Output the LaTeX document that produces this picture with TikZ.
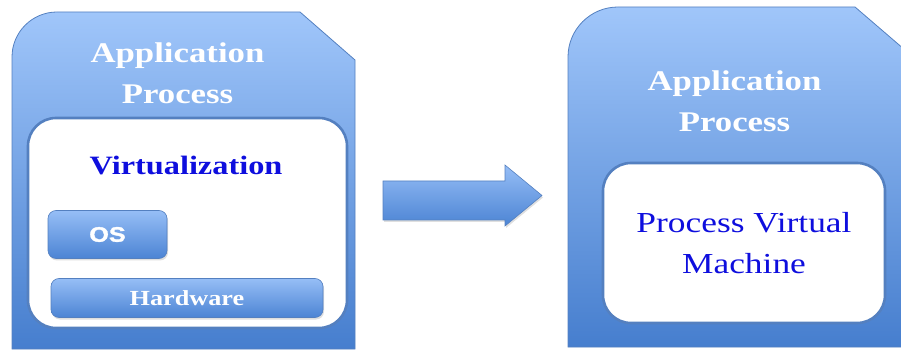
\documentclass[tikz,border=0pt]{standalone}
\usepackage{fontspec}
\setmainfont[FakeStretch=1.22]{Liberation Serif}
\newfontfamily\labelsans[FakeStretch=1.2,FakeBold=1.6]{Liberation Sans}
\usepackage{tikz}
\usetikzlibrary{shadows}
\usepackage{xcolor}
\definecolor{paneltop}{RGB}{160,198,250}
\definecolor{panelbot}{RGB}{70,126,206}
\definecolor{paneledge}{RGB}{84,128,192}
\definecolor{boxtop}{RGB}{150,190,246}
\definecolor{boxbot}{RGB}{76,132,212}
\definecolor{vmblue}{RGB}{14,14,222}

\begin{document}
\begin{tikzpicture}[
    x=1pt, y=-1pt,
    panel/.style={
      top color=paneltop, bottom color=panelbot,
      draw=paneledge, line width=0.8pt
    },
    layer/.style={
      rectangle, rounded corners=28pt, fill=white,
      draw=paneledge, line width=2.6pt, inner sep=0pt
    },
    blockbox/.style={
      rectangle, rounded corners=8pt, top color=boxtop, bottom color=boxbot,
      draw=paneledge, line width=0.6pt, text=white, inner sep=0pt,
      drop shadow={opacity=0.25, shadow xshift=1pt, shadow yshift=-2pt}
    },
    apptitle/.style={
      font=\fontsize{28.5}{41}\selectfont\bfseries, text=white,
      align=center, inner sep=0pt
    }
  ]
  \clip (0,0) rectangle (901,352);
  \useasboundingbox (0,0) rectangle (901,352);

  % --- Before: application on a system virtual machine ---
  \path[panel] (12,349) [rounded corners=45pt] -- (12,12)
    [sharp corners] -- (300,12) -- (355,60) -- (355,349) -- cycle;
  \node[apptitle] (app1) at (177.5,73) {Application\\Process};

  \node[layer, minimum width=319pt, minimum height=210pt] (virt) at (187.5,223) {};
  \node[font=\fontsize{26.5}{30}\selectfont\bfseries, text=vmblue, inner sep=0pt]
    (virtlabel) at (186,165.5) {Virtualization};

  \node[blockbox, minimum width=119pt, minimum height=48pt,
    font=\labelsans\fontsize{21}{24}\selectfont\bfseries] (os) at (107.5,234.5) {OS};
  \node[blockbox, minimum width=272pt, minimum height=39pt,
    font=\fontsize{21.5}{24}\selectfont\bfseries] (hw) at (187,298) {Hardware};

  % --- Transition arrow ---
  \path[top color=boxtop, bottom color=boxbot, draw=paneledge, line width=0.6pt,
    drop shadow={opacity=0.25, shadow xshift=1pt, shadow yshift=-2pt}]
    (383,181) -- (505,181) -- (505,165) -- (542,195.5)
    -- (505,226) -- (505,220) -- (383,220) -- cycle;

  % --- After: application on a process virtual machine ---
  \path[panel] (568,347) [rounded corners=50pt] -- (568,7)
    [sharp corners] -- (855,7) -- (912,56) -- (912,347) -- cycle;
  \node[apptitle] (app2) at (734.5,101.5) {Application\\Process};

  \node[layer, minimum width=282pt, minimum height=160pt,
    font=\fontsize{29}{41.6}\selectfont, text=vmblue, align=center]
    (pvm) at (744,243) {Process Virtual\\Machine};
\end{tikzpicture}
\end{document}
